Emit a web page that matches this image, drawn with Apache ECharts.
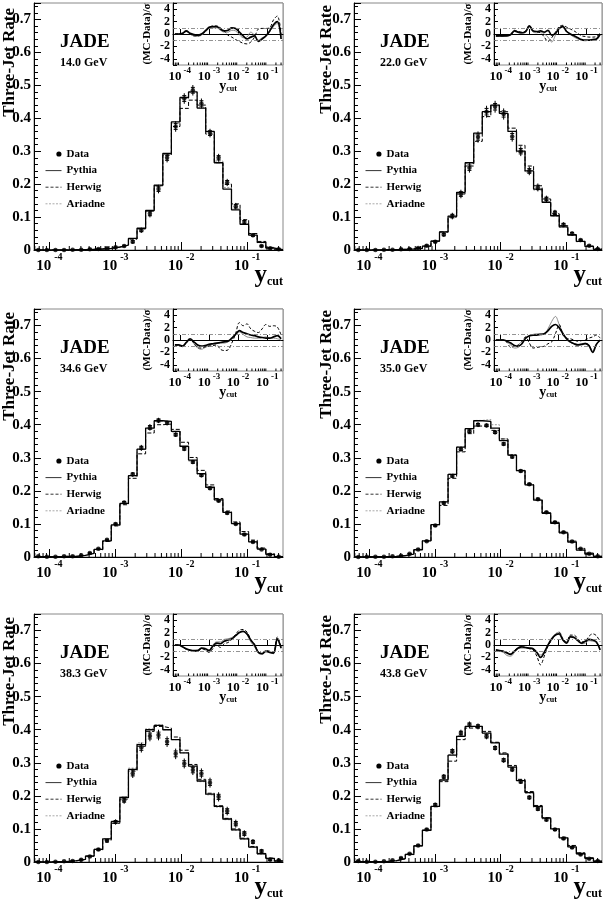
<!DOCTYPE html>
<html><head><meta charset="utf-8">
<script src="https://cdn.jsdelivr.net/npm/echarts@6/dist/echarts.min.js"></script>
<style>html,body{margin:0;padding:0;background:#fff}#c{width:606px;height:901px}</style>
</head><body><div id="c"></div>
<script>
// ---- data ----
const ycut = [6.773e-5,9.142e-5,1.234e-4,1.666e-4,2.249e-4,3.035e-4,4.097e-4,5.531e-4,7.466e-4,1.008e-3,1.360e-3,1.836e-3,2.479e-3,3.346e-3,4.517e-3,6.097e-3,8.230e-3,1.111e-2,1.500e-2,2.024e-2,2.732e-2,3.688e-2,4.979e-2,6.721e-2,9.072e-2,0.1225,0.1653,0.2231,0.3012];
const xTickLabels = [1e-4,1e-3,1e-2,1e-1];
const energies = ['14.0 GeV','22.0 GeV','34.6 GeV','35.0 GeV','38.3 GeV','43.8 GeV'];
const legendNames = ['Data','Pythia','Herwig','Ariadne'];
const yTitle = 'Three-Jet Rate';
const sigmaLines = [1,-1];

const data14 = [0,0,0,0,0.001,0.001,0.002,0.003,0.005,0.008,0.012,0.025,0.06,0.11,0.185,0.28,0.375,0.46,0.485,0.445,0.355,0.28,0.205,0.133,0.085,0.045,0.012,0.005,0.002];
const err14 = [0.001,0.001,0.001,0.001,0.001,0.001,0.002,0.002,0.002,0.003,0.004,0.006,0.008,0.011,0.013,0.014,0.016,0.016,0.016,0.015,0.013,0.012,0.011,0.01,0.008,0.006,0.004,0.003,0.002];
const pythia14 = [0,0,0,0,0.001,0.001,0.002,0.003,0.005,0.009,0.015,0.035,0.066,0.12,0.197,0.293,0.389,0.463,0.48,0.431,0.36,0.265,0.185,0.122,0.078,0.045,0.023,0.006,0.001];
const herwig14 = [0,0,0,0,0.001,0.001,0.002,0.003,0.005,0.009,0.015,0.033,0.064,0.118,0.195,0.288,0.375,0.43,0.455,0.44,0.352,0.265,0.2,0.14,0.092,0.05,0.026,0.008,0.001];
const ariadne14 = [0,0,0,0,0.001,0.001,0.002,0.003,0.005,0.009,0.015,0.034,0.065,0.119,0.196,0.29,0.385,0.46,0.478,0.432,0.358,0.27,0.19,0.125,0.08,0.045,0.022,0.006,0.001];
const devPythia14 = [0,0,0.1,0.5,0.1,-0.1,-0.2,0,0.5,1.1,1.2,1.2,0.8,0.5,0.6,1.0,0.9,0.3,-0.3,-0.8,-0.5,-0.3,-1.2,-0.8,-0.3,0.5,1.5,2.0,-0.8];
const devHerwig14 = [0,0,0.1,0.4,0,-0.3,-0.3,-0.1,0.4,1.0,1.3,1.3,1.0,0.5,-0.2,-0.5,-0.9,-1.2,-1.5,-1.6,-1.3,-0.5,0.8,0.9,0.9,1.0,2.3,2.9,0];
const devAriadne14 = [0,0,0.1,0.4,0,-0.3,-0.4,-0.2,0.3,0.9,1.0,1.0,0.6,0.3,0.3,0.6,0.5,-0.1,-0.6,-0.5,0.3,-0.2,-1.0,-0.6,-0.3,0.4,1.2,1.7,-0.5];

const data22 = [0,0,0,0.001,0.001,0.002,0.003,0.006,0.013,0.025,0.047,0.103,0.17,0.25,0.343,0.42,0.435,0.413,0.345,0.3,0.24,0.19,0.155,0.113,0.077,0.05,0.03,0.013,0.003];
const err22 = [0.001,0.001,0.001,0.001,0.001,0.002,0.002,0.003,0.004,0.005,0.007,0.01,0.013,0.015,0.017,0.018,0.018,0.017,0.016,0.015,0.013,0.012,0.01,0.009,0.007,0.006,0.004,0.003,0.002];
const pythia22 = [0,0,0,0.001,0.001,0.002,0.003,0.005,0.012,0.027,0.055,0.103,0.175,0.265,0.355,0.42,0.44,0.415,0.36,0.3,0.24,0.185,0.145,0.104,0.07,0.045,0.026,0.011,0.002];
const herwig22 = [0,0,0,0.001,0.001,0.002,0.003,0.005,0.012,0.027,0.055,0.1,0.17,0.255,0.33,0.405,0.44,0.42,0.37,0.318,0.255,0.195,0.155,0.11,0.074,0.047,0.028,0.012,0.003];
const ariadne22 = [0,0,0,0.001,0.001,0.002,0.003,0.005,0.012,0.026,0.053,0.101,0.172,0.262,0.35,0.418,0.438,0.413,0.36,0.296,0.236,0.182,0.145,0.103,0.069,0.044,0.025,0.011,0.002];
const devPythia22 = [-0.3,-0.3,-0.3,-0.3,-0.1,0.5,0.3,0.2,0.4,1.3,0.5,0.4,0.5,0.3,0.6,-0.2,0.1,0.9,1.2,0.4,0.0,-0.3,-0.6,-0.9,-1.0,-1.0,-0.9,-0.8,0.0];
const devHerwig22 = [-0.3,-0.3,-0.3,-0.2,0.0,0.6,0.4,0.3,0.5,1.4,0.5,0.3,0.2,-0.5,-1.2,-0.6,0.3,1.2,1.4,1.1,0.8,0.5,0.1,-0.3,-0.4,-0.5,-0.5,-0.4,0.1];
const devAriadne22 = [-0.4,-0.4,-0.4,-0.3,-0.2,0.4,0.2,0.1,0.3,1.1,0.3,0.2,0.3,0.0,-0.5,-1.3,-0.2,0.9,1.3,0.5,-0.1,-0.5,-0.8,-1.0,-1.1,-1.0,-0.9,-0.9,-0.2];

const data346 = [0.002,0.001,0.001,0.002,0.002,0.005,0.012,0.025,0.052,0.1,0.165,0.25,0.33,0.392,0.413,0.405,0.37,0.327,0.287,0.247,0.208,0.17,0.133,0.1,0.068,0.045,0.023,0.007,0.001];
const err346 = [0.001,0.001,0.001,0.001,0.001,0.001,0.002,0.002,0.003,0.004,0.005,0.007,0.009,0.01,0.008,0.007,0.007,0.007,0.006,0.006,0.005,0.005,0.005,0.004,0.004,0.003,0.002,0.002,0.001];
const pythia346 = [0.001,0.001,0.001,0.002,0.002,0.005,0.011,0.023,0.049,0.097,0.162,0.246,0.326,0.39,0.412,0.41,0.38,0.335,0.293,0.252,0.211,0.173,0.135,0.101,0.069,0.046,0.024,0.008,0.001];
const herwig346 = [0.001,0.001,0.001,0.002,0.002,0.005,0.011,0.022,0.047,0.094,0.158,0.238,0.312,0.375,0.4,0.402,0.386,0.347,0.301,0.262,0.218,0.177,0.139,0.106,0.077,0.051,0.027,0.01,0.001];
const ariadne346 = [0.001,0.001,0.001,0.002,0.002,0.005,0.011,0.023,0.048,0.096,0.161,0.245,0.325,0.387,0.41,0.407,0.378,0.333,0.29,0.25,0.21,0.172,0.135,0.102,0.07,0.046,0.024,0.007,0.001];
const devPythia346 = [-0.8,-0.8,-1.0,-0.4,0.2,-0.3,-0.8,-1.0,-0.9,-0.7,-0.6,-0.5,-0.4,-0.3,-0.2,0.3,0.9,1.5,1.2,1.0,0.8,0.7,0.5,0.4,0.3,0.3,0.5,0.7,0.2];
const devHerwig346 = [-0.8,-0.8,-1.0,-0.4,0.1,-0.5,-1.2,-1.3,-1.1,-1.0,-0.9,-0.8,-1.5,-1.7,-1.6,-0.5,1.0,2.8,2.3,2.6,1.8,1.4,1.2,1.8,2.5,2.2,2.3,2.1,0.8];
const devAriadne346 = [-0.9,-0.9,-1.1,-0.5,0.1,-0.6,-1.3,-1.5,-1.2,-0.9,-0.7,-0.6,-0.5,-0.5,-0.3,0.1,0.8,1.3,0.9,0.5,0.4,0.3,0.3,0.4,0.5,0.3,0.3,0.2,0.0];

const data350 = [0,0.001,0.001,0.001,0.002,0.004,0.01,0.023,0.048,0.095,0.163,0.245,0.326,0.38,0.4,0.398,0.377,0.342,0.303,0.26,0.22,0.175,0.135,0.105,0.075,0.047,0.025,0.01,0.002];
const err350 = [0.001,0.001,0.001,0.001,0.001,0.001,0.001,0.002,0.003,0.004,0.005,0.006,0.007,0.007,0.007,0.006,0.006,0.006,0.006,0.005,0.005,0.005,0.004,0.004,0.003,0.003,0.002,0.002,0.001];
const pythia350 = [0,0.001,0.001,0.001,0.002,0.004,0.009,0.022,0.049,0.098,0.167,0.25,0.332,0.388,0.412,0.41,0.39,0.352,0.308,0.261,0.218,0.172,0.132,0.102,0.073,0.045,0.021,0.009,0.002];
const herwig350 = [0,0.001,0.001,0.001,0.002,0.004,0.01,0.023,0.049,0.097,0.156,0.238,0.318,0.373,0.396,0.397,0.383,0.357,0.308,0.262,0.221,0.175,0.134,0.105,0.075,0.048,0.026,0.012,0.002];
const ariadne350 = [0,0.001,0.001,0.001,0.002,0.004,0.009,0.022,0.049,0.097,0.167,0.251,0.333,0.387,0.413,0.416,0.4,0.357,0.31,0.26,0.218,0.172,0.132,0.103,0.073,0.045,0.021,0.009,0.002];
const devPythia350 = [0,0,0,-0.2,-0.5,-0.9,-1.0,-0.6,0.3,0.7,0.8,0.8,0.9,1.0,1.5,2.2,2.5,2.0,1.0,0.2,-0.3,-0.6,-0.8,-0.7,-0.6,-0.9,-2.0,-0.7,0];
const devHerwig350 = [0,0,0,-0.4,-1.2,-1.0,-0.8,-0.2,0.5,-0.5,-1.3,-1.2,-1.1,-1.0,-0.6,-0.3,1.0,2.5,0.8,0.3,0.2,0.0,-0.2,-0.1,0.0,0.3,0.5,0.8,0.3];
const devAriadne350 = [0,0,0,-0.3,-0.8,-1.3,-1.2,-0.5,0.3,0.6,0.9,1.0,1.0,1.0,1.8,3.0,3.8,2.5,1.2,0.0,-0.4,-0.6,-0.7,-0.6,-0.5,-0.8,-1.8,-0.6,-0.2];

const data383 = [0,0,0.001,0.002,0.003,0.007,0.017,0.038,0.064,0.121,0.187,0.268,0.346,0.381,0.384,0.364,0.327,0.298,0.278,0.268,0.24,0.197,0.154,0.116,0.086,0.061,0.033,0.007,0.005];
const err383 = [0.001,0.001,0.001,0.001,0.002,0.002,0.003,0.004,0.006,0.008,0.011,0.014,0.015,0.016,0.016,0.016,0.016,0.015,0.015,0.015,0.015,0.014,0.013,0.012,0.01,0.008,0.006,0.004,0.003];
const pythia383 = [0,0,0.001,0.002,0.004,0.008,0.018,0.038,0.07,0.122,0.195,0.28,0.355,0.4,0.413,0.4,0.37,0.33,0.29,0.245,0.205,0.168,0.13,0.097,0.07,0.045,0.025,0.011,0.003];
const herwig383 = [0,0,0.001,0.002,0.004,0.008,0.018,0.036,0.066,0.117,0.19,0.275,0.35,0.395,0.41,0.405,0.378,0.338,0.295,0.25,0.208,0.17,0.132,0.1,0.072,0.047,0.026,0.012,0.003];
const ariadne383 = [0,0,0.001,0.002,0.004,0.008,0.018,0.039,0.071,0.124,0.198,0.284,0.36,0.403,0.415,0.4,0.37,0.33,0.288,0.243,0.203,0.166,0.128,0.096,0.069,0.044,0.024,0.011,0.003];
const devPythia383 = [0,0,-0.3,-0.6,-0.8,-0.9,-0.9,-0.5,-0.6,-0.9,-0.2,0.3,0.2,0.6,0.8,1.0,1.5,2.0,2.2,1.8,0.8,0.0,-1.2,-1.4,-1.0,-1.2,-1.3,1.0,-0.5];
const devHerwig383 = [0,0,-0.3,-0.7,-0.9,-1.0,-1.0,-0.6,-0.8,-1.2,-0.6,0.0,-0.4,0.2,0.4,0.9,1.7,2.4,2.5,2.1,0.9,0.1,-1.1,-1.3,-0.9,-1.0,-1.2,1.3,-0.3];
const devAriadne383 = [0,0,-0.3,-0.7,-0.9,-0.9,-0.8,-0.5,-0.5,-0.8,0.0,0.5,0.5,0.9,1.0,1.2,1.6,2.0,2.2,1.7,0.5,-0.3,-1.2,-1.5,-1.1,-1.2,-1.4,0.8,-0.6];

const data438 = [0.003,0.001,0.001,0.002,0.005,0.012,0.025,0.05,0.098,0.173,0.258,0.335,0.39,0.415,0.41,0.38,0.345,0.308,0.28,0.243,0.195,0.16,0.128,0.098,0.071,0.044,0.023,0.01,0.003];
const err438 = [0.001,0.001,0.001,0.001,0.001,0.002,0.002,0.003,0.004,0.006,0.008,0.009,0.01,0.01,0.009,0.009,0.008,0.008,0.008,0.007,0.007,0.006,0.006,0.005,0.004,0.004,0.003,0.002,0.001];
const pythia438 = [0.001,0.001,0.001,0.002,0.004,0.01,0.023,0.049,0.096,0.168,0.248,0.323,0.38,0.41,0.41,0.39,0.36,0.326,0.287,0.246,0.21,0.168,0.133,0.1,0.073,0.046,0.025,0.011,0.002];
const herwig438 = [0.001,0.001,0.001,0.002,0.004,0.01,0.023,0.049,0.096,0.167,0.243,0.305,0.37,0.405,0.41,0.395,0.362,0.33,0.292,0.25,0.213,0.171,0.134,0.101,0.075,0.05,0.028,0.013,0.003];
const ariadne438 = [0.001,0.001,0.001,0.002,0.004,0.009,0.022,0.048,0.095,0.168,0.248,0.325,0.382,0.41,0.41,0.39,0.362,0.328,0.288,0.246,0.208,0.165,0.13,0.099,0.072,0.045,0.024,0.01,0.002];
const devPythia438 = [-0.8,-0.9,-1.0,-1.3,-1.5,-1.0,-0.5,-0.3,-0.4,-0.5,-0.6,-1.2,-2.0,-1.2,0.0,1.0,1.6,1.8,0.8,0.3,1.3,1.2,0.7,0.3,0.6,0.9,0.8,0.5,-0.8];
const devHerwig438 = [-0.8,-0.9,-1.0,-1.2,-1.4,-0.9,-0.4,-0.3,-0.4,-0.6,-0.8,-1.8,-3.2,-1.8,-0.2,0.8,1.6,2.0,1.0,0.5,1.6,1.6,1.0,0.5,0.6,1.4,1.8,1.5,0.5];
const devAriadne438 = [-0.9,-1.0,-1.2,-1.7,-1.8,-1.2,-0.6,-0.5,-0.5,-0.6,-0.7,-1.1,-1.6,-1.0,0.0,1.0,1.8,2.1,1.0,0.4,1.5,1.3,0.8,0.2,0.3,0.7,0.6,0.4,-0.6];

// ---- assembly ----
const panels = [
  {data:data14, err:err14, mc:[pythia14,herwig14,ariadne14], dev:[devPythia14,devHerwig14,devAriadne14]},
  {data:data22, err:err22, mc:[pythia22,herwig22,ariadne22], dev:[devPythia22,devHerwig22,devAriadne22]},
  {data:data346, err:err346, mc:[pythia346,herwig346,ariadne346], dev:[devPythia346,devHerwig346,devAriadne346]},
  {data:data350, err:err350, mc:[pythia350,herwig350,ariadne350], dev:[devPythia350,devHerwig350,devAriadne350]},
  {data:data383, err:err383, mc:[pythia383,herwig383,ariadne383], dev:[devPythia383,devHerwig383,devAriadne383]},
  {data:data438, err:err438, mc:[pythia438,herwig438,ariadne438], dev:[devPythia438,devHerwig438,devAriadne438]}
];
const layout = [
  {l:34, t:3,   w:249, h:247, il:173, iw:110, tx:10,  ty:8},
  {l:354,t:3,   w:248, h:247, il:494, iw:108, tx:327, ty:5},
  {l:34, t:309, w:249, h:248, il:173, iw:110, tx:10,  ty:312},
  {l:354,t:309, w:248, h:248, il:494, iw:108, tx:327, ty:310},
  {l:34, t:614, w:249, h:248, il:173, iw:110, tx:10,  ty:617},
  {l:354,t:614, w:248, h:248, il:494, iw:108, tx:327, ty:615}
];
const FONT = '"Liberation Serif","Times New Roman",serif';
const BLACK = '#000';

// bin edges (geometric midpoints between y_cut values)
const n = ycut.length;
const edges = [ycut[0]*Math.sqrt(ycut[0]/ycut[1])];
for (let i=0;i<n-1;i++) edges.push(Math.sqrt(ycut[i]*ycut[i+1]));
edges.push(ycut[n-1]*Math.sqrt(ycut[n-1]/ycut[n-2]));
const xMin = edges[0], xMax = edges[n];
function histPoints(v){ const p=[]; for(let i=0;i<n;i++){ p.push([edges[i],v[i]]); p.push([edges[i+1],v[i]]); } return p; }
const minorVals = [];
xTickLabels.concat([1e-5]).forEach(d=>{ for(let m=2;m<=9;m++){ const v=m*d; if(v>xMin && v<xMax) minorVals.push([v,0]); } });

function expLabel(v){ const e=Math.round(Math.log10(v)); return '{b|10}{s|'+e+'}'; }
function minorTickRender(len){ return function(params, api){
  const cs = params.coordSys; const x = api.coord([api.value(0), api.value(1)])[0]; const yb = cs.y+cs.height;
  return {type:'line', shape:{x1:x,y1:yb,x2:x,y2:yb-len}, style:{stroke:BLACK,lineWidth:1}};
};}
function errRender(params, api){
  const x=api.value(0), y=api.value(1), e=api.value(2);
  const a=api.coord([x,y+e]), b=api.coord([x,Math.max(y-e,0)]);
  const s1=api.coord([x,y+e*0.55]), s2=api.coord([x,y-e*0.55]);
  const st={stroke:BLACK,lineWidth:1};
  return {type:'group', children:[
    {type:'line', shape:{x1:a[0],y1:a[1],x2:b[0],y2:b[1]}, style:st},
    {type:'line', shape:{x1:s1[0]-2,y1:s1[1],x2:s1[0]+2,y2:s1[1]}, style:st},
    {type:'line', shape:{x1:s2[0]-2,y1:s2[1],x2:s2[0]+2,y2:s2[1]}, style:st}
  ]};
}

const mcStyles = [
  {color:BLACK, width:1.3, type:'solid'},
  {color:BLACK, width:1, type:[4,2]},
  {color:'#999', width:1, type:[2,1.5]}
];
const devStyles = [
  {color:BLACK, width:1.7, type:'solid'},
  {color:BLACK, width:1, type:[3,2]},
  {color:'#8a8a8a', width:1, type:'solid'}
];
const legendLineStyles = [
  {color:'#333', width:1, type:'solid'},
  {color:'#333', width:1, type:[3,2]},
  {color:'#aaa', width:1, type:[2,1.5]}
];
const mcNames = ['Pythia','Herwig','Ariadne'];

const grid=[], xAxis=[], yAxis=[], series=[], legend=[], title=[], graphic=[];
panels.forEach((p,k)=>{
  const L = layout[k];
  grid.push({left:L.l, top:L.t, width:L.w, height:L.h, show:true, borderColor:'#888', borderWidth:1, outerBoundsMode:'none', containLabel:false});
});
panels.forEach((p,k)=>{
  const L = layout[k];
  grid.push({left:L.il, top:L.t, width:L.iw, height:62, show:true, borderColor:'#888', borderWidth:1, backgroundColor:'#fff', outerBoundsMode:'none', containLabel:false});
});

panels.forEach((p,k)=>{
  xAxis.push({type:'log', logBase:10, gridIndex:k, min:xMin, max:xMax,
    axisLine:{show:true, lineStyle:{color:BLACK, width:1}},
    axisTick:{show:true, inside:true, length:8, lineStyle:{color:BLACK}},
    splitLine:{show:false}, minorTick:{show:false}, minorSplitLine:{show:false},
    axisLabel:{show:true, showMinLabel:false, showMaxLabel:false, margin:2, formatter:expLabel, color:BLACK,
      rich:{b:{fontFamily:FONT, fontSize:15, fontWeight:'bold', color:BLACK, lineHeight:22, verticalAlign:'bottom'},
            s:{fontFamily:FONT, fontSize:10, fontWeight:'bold', color:BLACK, lineHeight:10, verticalAlign:'top', padding:[0,0,0,3]}}},
    name:'{y|y}{c|cut}', nameLocation:'end', nameGap:0, nameMoveOverlap:false,
    nameTextStyle:{align:'right', verticalAlign:'top', padding:[13,0,0,0],
      rich:{y:{fontFamily:FONT, fontSize:25, fontWeight:'bold', color:BLACK, verticalAlign:'middle'},
            c:{fontFamily:FONT, fontSize:12, fontWeight:'bold', color:BLACK, verticalAlign:'bottom'}}}
  });
  yAxis.push({type:'value', gridIndex:k, min:0, max:0.75, interval:0.1,
    axisLine:{show:true, lineStyle:{color:BLACK, width:1}},
    axisTick:{show:true, inside:true, length:7, lineStyle:{color:BLACK}},
    minorTick:{show:true, splitNumber:5, length:4, lineStyle:{color:BLACK}},
    splitLine:{show:false},
    axisLabel:{showMaxLabel:false, margin:3, fontFamily:FONT, fontSize:15, fontWeight:'bold', color:BLACK,
      formatter:v=> v===0 ? '0' : v.toFixed(1)}
  });
});
panels.forEach((p,k)=>{
  xAxis.push({type:'log', logBase:10, gridIndex:6+k, min:xMin, max:xMax,
    axisLine:{show:true, lineStyle:{color:BLACK, width:1}},
    axisTick:{show:true, inside:true, length:5, lineStyle:{color:BLACK}},
    splitLine:{show:false},
    axisLabel:{show:true, showMinLabel:false, showMaxLabel:false, margin:1, formatter:expLabel, color:BLACK,
      rich:{b:{fontFamily:FONT, fontSize:13, fontWeight:'bold', color:BLACK, lineHeight:17, verticalAlign:'bottom'},
            s:{fontFamily:FONT, fontSize:9, fontWeight:'bold', color:BLACK, lineHeight:8, verticalAlign:'top', padding:[0,0,0,2]}}},
    name:'{y|y}{c|cut}', nameLocation:'middle', nameGap:14, nameMoveOverlap:false,
    nameTextStyle:{rich:{y:{fontFamily:FONT, fontSize:14, fontWeight:'bold', color:BLACK},
                         c:{fontFamily:FONT, fontSize:8, fontWeight:'bold', color:BLACK, verticalAlign:'bottom'}}}
  });
  yAxis.push({type:'value', gridIndex:6+k, min:-5, max:5, splitNumber:5,
    axisLine:{show:true, lineStyle:{color:BLACK, width:1}},
    axisTick:{show:true, inside:true, length:4, lineStyle:{color:BLACK}},
    minorTick:{show:true, splitNumber:2, length:2, lineStyle:{color:BLACK}},
    splitLine:{show:false},
    axisLabel:{showMinLabel:false, showMaxLabel:false, margin:3, fontFamily:FONT, fontSize:12, fontWeight:'bold', color:BLACK},
    name:'(MC-Data)/σ', nameLocation:'middle', nameGap:20, nameMoveOverlap:false,
    nameTextStyle:{fontFamily:FONT, fontSize:11, fontWeight:'bold', color:BLACK}
  });
});

panels.forEach((p,k)=>{
  const L = layout[k];
  const zero = L.t + L.h;
  p.mc.forEach((vals,j)=>{
    series.push({type:'line', name:mcNames[j], xAxisIndex:k, yAxisIndex:k, data:histPoints(vals),
      symbol:'none', showSymbol:false, lineStyle:mcStyles[j], itemStyle:{color:mcStyles[j].color}, z:2-j*0.1, animation:false, silent:true});
  });
  series.push({type:'custom', name:'Data', xAxisIndex:k, yAxisIndex:k, renderItem:errRender,
    data:ycut.map((x,i)=>[x,p.data[i],p.err[i]]), encode:{x:0,y:1}, z:4, animation:false, silent:true, itemStyle:{color:BLACK}});
  series.push({type:'scatter', name:'Data', xAxisIndex:k, yAxisIndex:k, data:ycut.map((x,i)=>[x,p.data[i]]),
    symbol:'circle', symbolSize:4.5, itemStyle:{color:BLACK}, z:5, animation:false, silent:true});
  series.push({type:'custom', xAxisIndex:k, yAxisIndex:k, renderItem:minorTickRender(4), data:minorVals, encode:{x:0,y:1}, z:3, animation:false, silent:true});
  // inset
  p.dev.forEach((vals,j)=>{
    const s = {type:'line', name:mcNames[j], xAxisIndex:6+k, yAxisIndex:6+k, data:ycut.map((x,i)=>[x,vals[i]]),
      smooth:0.35, symbol:'none', showSymbol:false, lineStyle:devStyles[j], itemStyle:{color:devStyles[j].color}, z:3-j*0.1, animation:false, silent:true};
    if (j===2) s.markLine = {silent:true, symbol:'none', label:{show:false}, animation:false,
      lineStyle:{color:'#777', width:0.8, type:[4,2,1,2]}, data:sigmaLines.map(v=>({yAxis:v}))};
    series.push(s);
  });
  series.push({type:'custom', xAxisIndex:6+k, yAxisIndex:6+k, renderItem:minorTickRender(2.5), data:minorVals, encode:{x:0,y:1}, z:3, animation:false, silent:true});

  const hidden = {opacity:0, borderWidth:0};
  legend.push({left:L.l+6, top:zero-107, orient:'vertical', itemWidth:16, itemHeight:6, itemGap:4.6, selectedMode:false,
    textStyle:{fontFamily:FONT, fontSize:11, fontWeight:'bold', color:BLACK, lineHeight:12},
    data:[{name:legendNames[0], icon:'path://M0,3L0.05,3L0.05,3.05Z M13,0.5A2.5,2.5,0,1,1,13,5.5A2.5,2.5,0,1,1,13,0.5Z', itemStyle:{color:BLACK}},
          {name:legendNames[1], itemStyle:hidden, lineStyle:legendLineStyles[0]},
          {name:legendNames[2], itemStyle:hidden, lineStyle:legendLineStyles[1]},
          {name:legendNames[3], itemStyle:hidden, lineStyle:legendLineStyles[2]}]});
  title.push({left:L.l+26, top:L.t+30, text:'JADE', subtext:energies[k], itemGap:5, padding:0,
    textStyle:{fontFamily:FONT, fontSize:19, fontWeight:'bold', color:BLACK},
    subtextStyle:{fontFamily:FONT, fontSize:12, fontWeight:'bold', color:BLACK}});
  graphic.push({type:'text', x:L.tx, y:L.ty, rotation:Math.PI/2, silent:true,
    style:{text:yTitle, font:'bold 17px '+FONT, fill:BLACK, align:'right', verticalAlign:'middle'}});
});

const chart = echarts.init(document.getElementById('c'), null, {renderer:'canvas'});
chart.setOption({animation:false, backgroundColor:'#fff', textStyle:{fontFamily:FONT},
  title, legend, grid, xAxis, yAxis, series, graphic});
</script></body></html>
